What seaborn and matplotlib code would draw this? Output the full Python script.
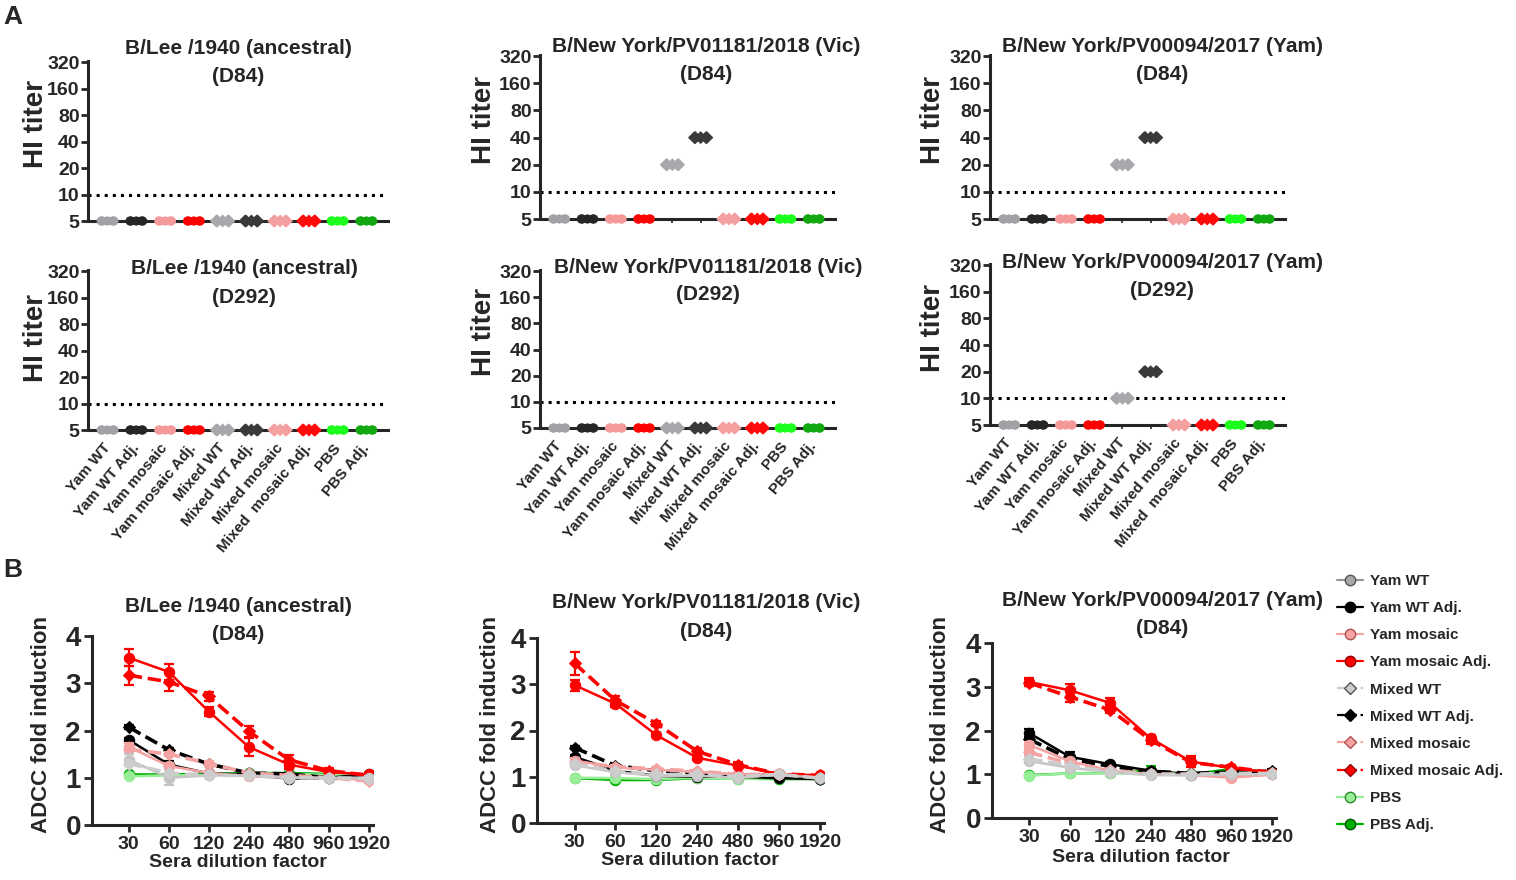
import numpy as np
import pandas as pd
import matplotlib
matplotlib.use("Agg")
import matplotlib.pyplot as plt
from matplotlib.lines import Line2D
from matplotlib.ticker import NullLocator
import seaborn as sns
import warnings

warnings.filterwarnings("ignore")

# ---------------- data ----------------
groups = ["Yam WT", "Yam WT Adj.", "Yam mosaic", "Yam mosaic Adj.", "Mixed WT",
          "Mixed WT Adj.", "Mixed mosaic", "Mixed mosaic Adj.", "PBS", "PBS Adj."]
hi_tick_labels = ["Yam WT", "Yam WT Adj.", "Yam mosaic", "Yam mosaic Adj.", "Mixed WT",
                  "Mixed WT Adj.", "Mixed mosaic", "Mixed  mosaic Adj.", "PBS", "PBS Adj."]
diamond_groups = ["Mixed WT", "Mixed WT Adj.", "Mixed mosaic", "Mixed mosaic Adj."]

# HI titers (same value for every mouse of a group)
hi_lee_d84 = [5, 5, 5, 5, 5, 5, 5, 5, 5, 5]
hi_vic_d84 = [5, 5, 5, 5, 20, 40, 5, 5, 5, 5]
hi_yam_d84 = [5, 5, 5, 5, 20, 40, 5, 5, 5, 5]
hi_lee_d292 = [5, 5, 5, 5, 5, 5, 5, 5, 5, 5]
hi_vic_d292 = [5, 5, 5, 5, 5, 5, 5, 5, 5, 5]
hi_yam_d292 = [5, 5, 5, 5, 10, 20, 5, 5, 5, 5]
mice_per_group = 5
hi_ticks = [5, 10, 20, 40, 80, 160, 320]

dilutions = [30, 60, 120, 240, 480, 960, 1920]

# ADCC fold induction, rows follow `groups`
adcc_lee = [
    [1.38, 1.00, 1.05, 1.05, 1.00, 1.00, 1.00],
    [1.80, 1.28, 1.09, 1.07, 0.98, 1.00, 1.08],
    [1.65, 1.25, 1.10, 1.03, 1.00, 1.00, 0.95],
    [3.54, 3.24, 2.40, 1.65, 1.28, 1.12, 1.07],
    [1.30, 1.10, 1.05, 1.05, 1.00, 1.00, 0.98],
    [2.07, 1.59, 1.29, 1.10, 1.08, 1.00, 1.00],
    [1.60, 1.50, 1.30, 1.10, 1.05, 1.00, 0.93],
    [3.17, 3.03, 2.72, 1.98, 1.38, 1.15, 1.05],
    [1.03, 1.05, 1.05, 1.08, 1.08, 1.06, 1.05],
    [1.07, 1.07, 1.08, 1.10, 1.10, 1.08, 1.05],
]
adcc_lee_err = [
    [0.12, 0.15, 0.04, 0.04, 0.03, 0.03, 0.03],
    [0.05, 0.08, 0.04, 0.03, 0.03, 0.03, 0.03],
    [0.08, 0.06, 0.04, 0.03, 0.03, 0.03, 0.05],
    [0.18, 0.17, 0.10, 0.20, 0.10, 0.05, 0.03],
    [0.05, 0.05, 0.03, 0.03, 0.03, 0.03, 0.03],
    [0.04, 0.05, 0.05, 0.03, 0.03, 0.03, 0.03],
    [0.05, 0.05, 0.05, 0.03, 0.03, 0.03, 0.04],
    [0.20, 0.20, 0.10, 0.12, 0.10, 0.05, 0.03],
    [0.03, 0.03, 0.03, 0.03, 0.03, 0.03, 0.03],
    [0.03, 0.03, 0.03, 0.03, 0.03, 0.03, 0.03],
]
adcc_vic = [
    [1.25, 1.10, 1.02, 1.02, 0.98, 1.05, 0.97],
    [1.43, 1.13, 1.02, 1.00, 1.00, 0.97, 0.95],
    [1.35, 1.20, 1.15, 1.10, 1.05, 1.05, 1.00],
    [2.98, 2.58, 1.90, 1.41, 1.24, 1.06, 1.03],
    [1.28, 1.12, 1.05, 1.05, 1.00, 1.05, 0.97],
    [1.63, 1.24, 1.13, 1.08, 1.03, 1.04, 0.95],
    [1.32, 1.22, 1.17, 1.12, 1.05, 1.05, 1.00],
    [3.45, 2.65, 2.15, 1.55, 1.26, 1.06, 1.03],
    [0.98, 0.97, 0.95, 0.98, 0.95, 0.97, 0.96],
    [0.97, 0.93, 0.93, 0.97, 0.96, 0.95, 0.95],
]
adcc_vic_err = [
    [0.04, 0.04, 0.03, 0.03, 0.03, 0.03, 0.03],
    [0.05, 0.04, 0.03, 0.03, 0.03, 0.03, 0.03],
    [0.05, 0.04, 0.04, 0.03, 0.03, 0.03, 0.03],
    [0.12, 0.08, 0.05, 0.05, 0.05, 0.03, 0.03],
    [0.04, 0.04, 0.03, 0.03, 0.03, 0.03, 0.03],
    [0.04, 0.04, 0.03, 0.03, 0.03, 0.03, 0.03],
    [0.04, 0.04, 0.04, 0.03, 0.03, 0.03, 0.03],
    [0.25, 0.10, 0.05, 0.07, 0.05, 0.03, 0.03],
    [0.03, 0.03, 0.03, 0.03, 0.03, 0.03, 0.03],
    [0.03, 0.05, 0.05, 0.03, 0.03, 0.03, 0.03],
]
adcc_yam = [
    [1.30, 1.15, 1.05, 0.98, 0.98, 1.00, 1.00],
    [1.94, 1.40, 1.23, 1.08, 0.99, 1.02, 1.04],
    [1.67, 1.30, 1.08, 1.00, 0.98, 0.92, 1.00],
    [3.11, 2.92, 2.63, 1.82, 1.29, 1.14, 1.04],
    [1.35, 1.20, 1.05, 1.00, 1.00, 1.02, 1.02],
    [1.80, 1.35, 1.18, 1.07, 1.02, 1.05, 1.07],
    [1.50, 1.25, 1.10, 1.00, 1.00, 0.95, 1.00],
    [3.09, 2.77, 2.47, 1.78, 1.27, 1.16, 1.04],
    [0.97, 1.02, 1.02, 1.00, 0.98, 1.00, 1.02],
    [0.98, 1.02, 1.03, 1.08, 1.00, 1.12, 1.05],
]
adcc_yam_err = [
    [0.05, 0.04, 0.03, 0.03, 0.03, 0.03, 0.03],
    [0.10, 0.10, 0.06, 0.04, 0.03, 0.03, 0.05],
    [0.06, 0.05, 0.04, 0.03, 0.03, 0.05, 0.03],
    [0.10, 0.15, 0.12, 0.08, 0.12, 0.05, 0.03],
    [0.04, 0.04, 0.03, 0.03, 0.03, 0.03, 0.03],
    [0.05, 0.05, 0.04, 0.03, 0.03, 0.03, 0.05],
    [0.05, 0.04, 0.03, 0.03, 0.03, 0.03, 0.03],
    [0.08, 0.12, 0.08, 0.08, 0.10, 0.05, 0.03],
    [0.03, 0.05, 0.03, 0.03, 0.03, 0.03, 0.03],
    [0.03, 0.03, 0.03, 0.10, 0.03, 0.05, 0.03],
]

# ---------------- styles ----------------
hi_colors = {"Yam WT": "#a2a2a6", "Yam WT Adj.": "#262626", "Yam mosaic": "#f59a9a",
             "Yam mosaic Adj.": "#ff0000", "Mixed WT": "#a8a8ac", "Mixed WT Adj.": "#3a3a3a",
             "Mixed mosaic": "#f5a0a0", "Mixed mosaic Adj.": "#ff0a0a", "PBS": "#1cff1c",
             "PBS Adj.": "#12a812"}
line_colors = {"Yam WT": "#c4c4c4", "Yam WT Adj.": "#000000", "Yam mosaic": "#f4a2a2",
               "Yam mosaic Adj.": "#ff0000", "Mixed WT": "#cdcdcd", "Mixed WT Adj.": "#000000",
               "Mixed mosaic": "#f4a2a2", "Mixed mosaic Adj.": "#ff0000", "PBS": "#98ee98",
               "PBS Adj.": "#00b000"}
edge_colors = {"Yam WT": "#555555", "Yam WT Adj.": "#000000", "Yam mosaic": "#b05050",
               "Yam mosaic Adj.": "#900000", "Mixed WT": "#555555", "Mixed WT Adj.": "#000000",
               "Mixed mosaic": "#b05050", "Mixed mosaic Adj.": "#900000", "PBS": "#2a8a2a",
               "PBS Adj.": "#005500"}
draw_order = ["PBS Adj.", "PBS", "Yam WT Adj.", "Mixed WT Adj.", "Yam mosaic", "Mixed mosaic",
              "Yam mosaic Adj.", "Mixed mosaic Adj.", "Yam WT", "Mixed WT"]

sns.set_style("ticks")
plt.rcParams["font.family"] = ["Liberation Sans", "DejaVu Sans"]
plt.rcParams["font.weight"] = "bold"
plt.rcParams["axes.labelweight"] = "bold"
plt.rcParams["axes.linewidth"] = 2.2
title_font = "Liberation Sans"

W, H = 1516, 880
fig = plt.figure(figsize=(W / 100, H / 100), dpi=100)
hi_axes = []


def add_ax(l, t, r, b):
    return fig.add_axes([l / W, 1 - b / H, (r - l) / W, (b - t) / H])


def ftext(x, y, s, **kw):
    fig.text(x / W, 1 - y / H, s, **kw)


def hi_panel(box, values, bottom_labels):
    ax = add_ax(*box)
    ax.set_yscale("log", base=2)
    df = pd.DataFrame({"group": np.repeat(groups, mice_per_group),
                       "titer": np.repeat(values, mice_per_group)})
    circ = df[~df["group"].isin(diamond_groups)]
    diam = df[df["group"].isin(diamond_groups)]
    sns.swarmplot(data=circ, x="group", y="titer", hue="group", order=groups,
                  palette=hi_colors, size=6.6, marker="o", linewidth=0,
                  legend=False, clip_on=False, zorder=5, ax=ax)
    sns.swarmplot(data=diam, x="group", y="titer", hue="group", order=groups,
                  palette=hi_colors, size=6.6, marker="D", linewidth=0,
                  legend=False, clip_on=False, zorder=5, ax=ax)
    ax.axhline(10, color="black", ls=":", lw=2.2, zorder=1)
    ax.set_ylim(5, 330)
    ax.set_yticks(hi_ticks)
    ax.set_yticklabels([str(t) for t in hi_ticks])
    ax.yaxis.set_minor_locator(NullLocator())
    ax.set_xlim(-0.68, 9.75)
    ax.set_xlabel("")
    ax.set_ylabel("")
    sns.despine(ax=ax)
    ax.tick_params(axis="y", length=5, width=2, labelsize=14, pad=1)
    ax.tick_params(axis="x", length=3, width=1.2)
    if bottom_labels:
        ax.set_xticks(range(len(groups)))
        ax.set_xticklabels(hi_tick_labels, rotation=50, ha="right", va="center",
                           rotation_mode="anchor", fontsize=11, fontfamily=title_font,
                           fontweight="bold")
        ax.tick_params(axis="x", pad=8)
    else:
        ax.tick_params(axis="x", labelbottom=False)
    hi_axes.append(ax)
    return ax


def adcc_panel(box, means, errs):
    ax = add_ax(*box)
    ax.set_xscale("log", base=2)
    for g in draw_order:
        i = groups.index(g)
        dashed = g.startswith("Mixed")
        mk = "D" if dashed else "o"
        sns.lineplot(x=dilutions, y=means[i], color=line_colors[g], marker=mk,
                     markersize=6 if dashed else 7.5, markeredgecolor=line_colors[g],
                     linestyle="--" if dashed else "-", lw=2.6 if dashed else 1.8,
                     errorbar=None, ax=ax, zorder=3)
        ax.errorbar(dilutions, means[i], yerr=errs[i], fmt="none", ecolor=line_colors[g],
                    elinewidth=1.6, capsize=3.5, capthick=1.6, zorder=3)
    ax.set_xlim(30 * 2 ** -0.92, 1920 * 2 ** 0.1)
    ax.set_ylim(0, 4)
    ax.set_xticks(dilutions)
    ax.set_xticklabels([str(d) for d in dilutions])
    ax.xaxis.set_minor_locator(NullLocator())
    ax.set_yticks([0, 1, 2, 3, 4])
    sns.despine(ax=ax)
    ax.tick_params(axis="y", length=6, width=2, labelsize=20, pad=2)
    ax.tick_params(axis="x", length=5, width=2, labelsize=14, pad=3)
    return ax


# ---------------- HI panels ----------------
hi_panel((88, 61, 388, 221), hi_lee_d84, False)
hi_panel((540, 55, 835, 219), hi_vic_d84, False)
hi_panel((990, 55, 1285, 219), hi_yam_d84, False)
hi_panel((88, 270, 388, 430), hi_lee_d292, True)
hi_panel((540, 270, 835, 428), hi_vic_d292, True)
hi_panel((990, 264, 1285, 425), hi_yam_d292, True)

# ---------------- ADCC panels ----------------
adcc_panel((92, 636, 373, 825), adcc_lee, adcc_lee_err)
adcc_panel((537, 638, 824, 823), adcc_vic, adcc_vic_err)
adcc_panel((992, 643, 1276, 818), adcc_yam, adcc_yam_err)

# ---------------- text ----------------
titles = [
    (238, 48, "B/Lee /1940 (ancestral)", "(D84)"),
    (706, 47, "B/New York/PV01181/2018 (Vic)", "(D84)"),
    (1162, 47, "B/New York/PV00094/2017 (Yam)", "(D84)"),
    (244, 269, "B/Lee /1940 (ancestral)", "(D292)"),
    (708, 267, "B/New York/PV01181/2018 (Vic)", "(D292)"),
    (1162, 263, "B/New York/PV00094/2017 (Yam)", "(D292)"),
    (238, 606, "B/Lee /1940 (ancestral)", "(D84)"),
    (706, 603, "B/New York/PV01181/2018 (Vic)", "(D84)"),
    (1162, 600, "B/New York/PV00094/2017 (Yam)", "(D84)"),
]
for x, y, l1, l2 in titles:
    ftext(x, y, l1, ha="center", va="center", fontsize=15, fontfamily=title_font,
          fontweight="bold")
    ftext(x, y + 28, l2, ha="center", va="center", fontsize=15, fontfamily=title_font,
          fontweight="bold")

for x, y in [(36, 124), (484, 120), (933, 120), (36, 338), (484, 332), (933, 328)]:
    ftext(x, y, "HI titer", rotation=90, ha="center", va="center", fontsize=20,
          fontweight="bold")
for x in [42, 490, 940]:
    ftext(x, 724, "ADCC fold induction", rotation=90, ha="center", va="center",
          fontsize=16, fontweight="bold")
for x, y in [(238, 862), (690, 860), (1141, 857)]:
    ftext(x, y, "Sera dilution factor", ha="center", va="center", fontsize=14,
          fontweight="bold")

ftext(13, 17, "A", ha="center", va="center", fontsize=19, fontweight="bold")
ftext(13, 570, "B", ha="center", va="center", fontsize=19, fontweight="bold")

# ---------------- legend ----------------
handles = []
for g in groups:
    dashed = g.startswith("Mixed")
    handles.append(Line2D([0], [0], color=line_colors[g] if g != "Yam WT" else "#999999",
                          marker="D" if dashed else "o", markersize=6 if dashed else 7.5,
                          markerfacecolor=line_colors[g] if g != "Yam WT" else "#a8a8a8",
                          markeredgecolor=edge_colors[g], markeredgewidth=1,
                          linestyle="--" if dashed else "-", lw=1.6, label=g))
fig.legend(handles=handles, loc="upper left", bbox_to_anchor=(1337 / W, 1 - 574 / H),
           frameon=False, prop={"family": title_font, "weight": "bold", "size": 11},
           handlelength=1.7, handletextpad=0.45, labelspacing=0.86, borderpad=0,
           borderaxespad=0)

# seaborn lays the swarms out at draw time; after that, tighten each cluster
# so the dots overlap like the original blobs
fig.canvas.draw()
for ax in hi_axes:
    for coll in ax.collections:
        coll.__dict__.pop("draw", None)
        off = np.asarray(coll.get_offsets(), dtype=float)
        if len(off):
            centre = np.round(off[:, 0])
            off[:, 0] = centre + (off[:, 0] - centre) * 0.55
            coll.set_offsets(off)

fig.savefig("out.png", dpi=100)
